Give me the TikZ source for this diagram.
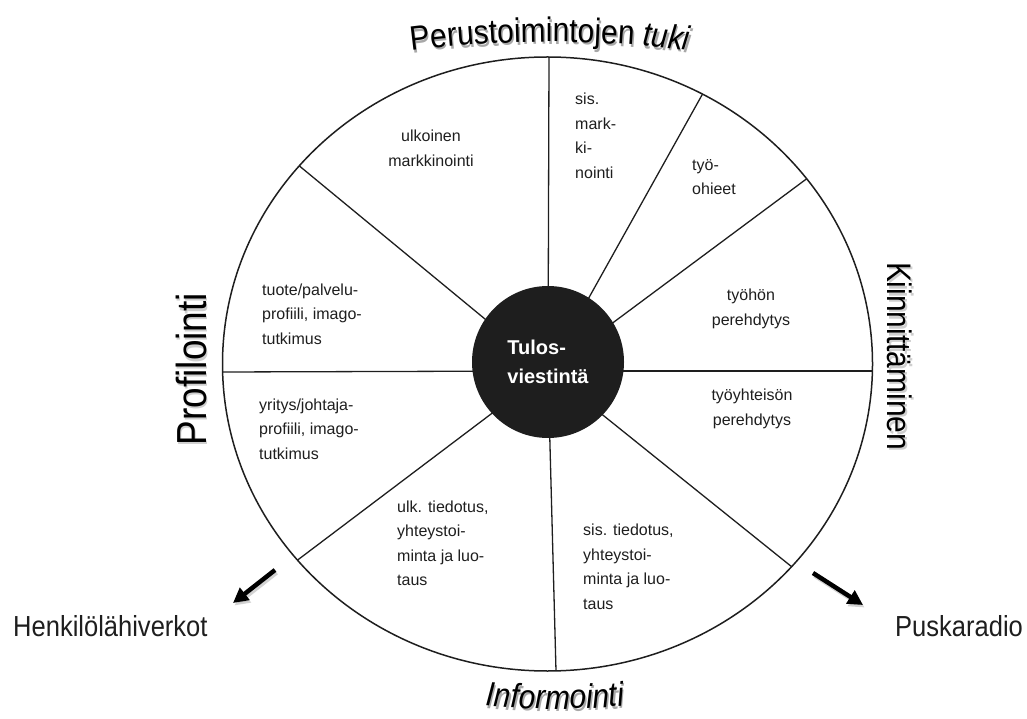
\documentclass[tikz,border=0pt]{standalone}
\usepackage{fontspec}
\setmainfont{Liberation Sans}
\newfontfamily\narrowsans[FakeStretch=0.88]{Liberation Sans}
\usetikzlibrary{arrows.meta,calc,decorations.text}

\definecolor{ink}{HTML}{1E1E1E}
\definecolor{shade}{HTML}{A8A8A8}

\newcommand{\titlefont}{\narrowsans\fontsize{34}{40}\selectfont}
\newcommand{\sidefont}{\narrowsans\fontsize{29}{34}\selectfont}
\newcommand{\proffont}{\narrowsans\fontsize{42}{48}\selectfont}

\tikzset{
  divider/.style={draw=ink, line width=1.3pt},
  rim/.style={draw=ink, line width=1.5pt},
  sector/.style={font=\fontsize{16}{24.5}\selectfont, text=ink, inner sep=0pt},
  core/.style={circle, fill=ink, minimum size=152pt, inner sep=0pt,
    font=\bfseries\fontsize{20}{29}\selectfont, text=white, align=left},
  bigtitle/.style={font=\titlefont, text=black, inner sep=0pt},
  sidelabel/.style={font=\sidefont, text=ink, inner sep=0pt},
  shadowed/.style={text=shade, opacity=0.55},
  bigarrow/.style={draw=black, line width=4.5pt,
    -{Triangle[length=15pt,width=15pt]}},
  arrowshadow/.style={draw=shade, opacity=0.5, line width=4.5pt,
    -{Triangle[length=15pt,width=15pt]}}
}

\begin{document}
\begin{tikzpicture}[x=1pt,y=1pt]
\useasboundingbox (0,0) rectangle (1027,718);

% wheel geometry
\coordinate (O) at (547.5,354);
\coordinate (hub) at (548,347);

\begin{scope}
  \clip (O) ellipse [x radius=325, y radius=307];
  \foreach \px/\py in {549/661, 702/623, 805/538, 873/347, 792/151,
                       556/47, 295/156, 222/346, 297/554}
    \draw[divider] (hub) -- ($(hub)!1.2!(\px,\py)$);
\end{scope}
\draw[rim] (O) ellipse [x radius=325, y radius=307];

% centre disc
\node[core] (tulos) at (548,356) {Tulos-\\viestintä};

% sector texts
\node[sector, align=center] (ulkmark) at (431,569.5) {ulkoinen\\markkinointi};
\node[sector, align=left, anchor=west] (sismark) at (575,582) {sis.\\mark-\\ki-\\nointi};
\node[sector, align=left, anchor=west] (tyoohj) at (692,541) {työ-\\ohieet};
\node[sector, align=center] (tyoper) at (751,409) {työhön\\perehdytys};
\node[sector, align=center] (yhtper) at (752,309) {työyhteisön\\perehdytys};
\node[sector, align=left, anchor=west] (sistied) at (583,151) {sis. tiedotus,\\yhteystoi-\\minta ja luo-\\taus};
\node[sector, align=left, anchor=west] (ulktied) at (397,174.5) {ulk. tiedotus,\\yhteystoi-\\minta ja luo-\\taus};
\node[sector, align=left, anchor=west] (yritys) at (259,289) {yritys/johtaja-\\profiili, imago-\\tutkimus};
\node[sector, align=left, anchor=west] (tuote) at (262,404) {tuote/palvelu-\\profiili, imago-\\tutkimus};

% curved headings (soft shadow first, then the text)
\path[decorate, opacity=0.55, decoration={text along path, text align=center,
  text={|\titlefont\color{shade}|Perustoimintojen |\titlefont\itshape\color{shade}|tuki}}]
  ([shift={(1.5,-2.5)}]379,662.6) arc[start angle=99, end angle=81, radius=1093];
\path[decorate, decoration={text along path, text align=center,
  text={|\titlefont|Perustoimintojen |\titlefont\itshape|tuki}}]
  (379,662.6) arc[start angle=99, end angle=81, radius=1093];

\path[decorate, opacity=0.55, decoration={text along path, text align=center,
  text={|\titlefont\itshape\color{shade}|Informointi}}]
  ([shift={(1.5,-2.5)}]476.8,13.1) arc[start angle=264, end angle=276, radius=748];
\path[decorate, decoration={text along path, text align=center,
  text={|\titlefont\itshape|Informointi}}]
  (476.8,13.1) arc[start angle=264, end angle=276, radius=748];

% side headings
\node[bigtitle, shadowed, rotate=-90] (kiinS) at (901.5,359.5) {Kiinnittäminen};
\node[bigtitle, rotate=-90] (kiin) at (900,362) {Kiinnittäminen};
\node[bigtitle, font=\proffont, shadowed, rotate=90] (profS) at (192.5,346.5) {Profilointi};
\node[bigtitle, font=\proffont, rotate=90] (prof) at (191,349) {Profilointi};

% outward arrows
\coordinate (lt) at (275,148);
\coordinate (lh) at (233,115);
\coordinate (rt) at (813,145);
\coordinate (rh) at (863,113);
\draw[arrowshadow] ([shift={(1.5,-2.5)}]lt) -- ([shift={(1.5,-2.5)}]lh);
\draw[bigarrow] (lt) -- (lh);
\draw[arrowshadow] ([shift={(1.5,-2.5)}]rt) -- ([shift={(1.5,-2.5)}]rh);
\draw[bigarrow] (rt) -- (rh);

\node[sidelabel, anchor=base west] (henk) at (13,82) {Henkilölähiverkot};
\node[sidelabel, anchor=base west] (puska) at (895,82) {Puskaradio};
\end{tikzpicture}
\end{document}
